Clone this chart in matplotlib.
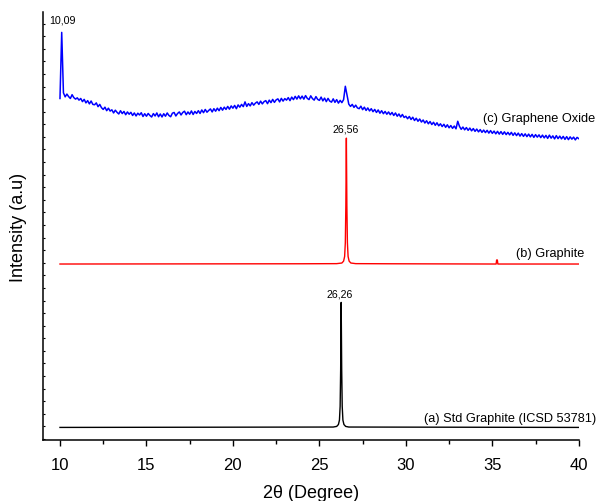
import numpy as np
import matplotlib
matplotlib.use("Agg")
import matplotlib.pyplot as plt

plt.rcParams["font.family"] = ["Liberation Sans", "DejaVu Sans"]

# (a) Std Graphite (ICSD 53781) - stacked offset, arbitrary units
std_x = [10.0, 25.8, 26.0, 26.1, 26.16, 26.2, 26.23, 26.26, 26.29, 26.32, 26.36, 26.42, 26.52, 26.7, 40.0]
std_y = [0.92, 0.95, 1.0, 1.15, 1.5, 2.6, 5.5, 10.85, 5.5, 2.6, 1.5, 1.15, 1.0, 0.95, 0.92]

# (b) Graphite
gr_x = [10.0, 24.0, 26.0, 26.3, 26.4, 26.46, 26.5, 26.53, 26.56, 26.59, 26.62, 26.66, 26.72,
        26.82, 27.1, 29.0, 35.22, 35.25, 35.29, 35.32, 40.0]
gr_y = [13.9, 13.92, 13.93, 13.98, 14.13, 14.5, 15.6, 18.5, 23.9, 18.5, 15.6, 14.5, 14.13,
        13.98, 13.93, 13.92, 13.9, 14.22, 14.22, 13.9, 13.9]

# (c) Graphene Oxide, 10.0 .. 40.0 step 0.1
go_x = np.round(np.arange(10.0, 40.05, 0.1), 1)
go_y = [
    27.05, 32.3, 27.5, 27.18, 27.4, 27.2, 27.05, 27.35, 27.12, 27.0,
    27.1, 26.92, 27.05, 26.8, 26.98, 26.7, 26.88, 26.62, 26.85, 26.58,
    26.55, 26.7, 26.4, 26.58, 26.32, 26.18, 26.36, 26.08, 26.28, 26.05,
    26.15, 25.9, 26.12, 25.95, 25.82, 26.08, 25.85, 26.02, 25.76, 25.98,
    25.8, 25.95, 25.7, 25.9, 25.66, 25.88, 25.74, 25.92, 25.62, 25.84,
    25.64, 25.86, 25.7, 25.58, 25.85, 25.66, 25.9, 25.6, 25.82, 25.58,
    25.84, 25.64, 25.9, 25.7, 25.6, 25.88, 25.94, 25.66, 25.86, 25.98,
    25.74, 25.94, 26.04, 25.76, 25.98, 25.8, 26.06, 25.78, 26.02, 25.86,
    26.08, 25.86, 26.14, 25.92, 26.18, 25.96, 26.1, 26.22, 25.98, 26.24,
    26.04, 26.28, 26.08, 26.34, 26.12, 26.36, 26.18, 26.42, 26.2, 26.46,
    26.28, 26.5, 26.24, 26.54, 26.36, 26.58, 26.4, 26.78, 26.42, 26.64,
    26.46, 26.72, 26.52, 26.68, 26.78, 26.58, 26.84, 26.62, 26.8, 26.88,
    26.64, 26.92, 26.72, 26.98, 26.74, 26.94, 27.02, 26.78, 27.06, 26.84,
    27.04, 26.92, 27.12, 26.88, 27.16, 26.96, 27.22, 27.0, 27.26, 27.02,
    27.24, 27.0, 27.28, 27.06, 26.96, 27.26, 27.04, 26.92, 27.2, 26.98,
    26.9, 27.16, 26.86, 27.08, 26.8, 27.06, 26.84, 26.76, 27.02, 26.74,
    26.96, 26.68, 26.9, 26.72, 26.96, 28.02, 27.3, 26.6, 26.42, 26.58,
    26.34, 26.52, 26.3, 26.24, 26.44, 26.16, 26.36, 26.1, 26.3, 26.06,
    26.24, 26.0, 26.18, 25.94, 26.14, 25.88, 26.08, 25.84, 26.02, 25.8,
    25.98, 25.76, 25.94, 25.7, 25.9, 25.64, 25.82, 25.58, 25.78, 25.54,
    25.64, 25.44, 25.62, 25.38, 25.56, 25.3, 25.48, 25.24, 25.42, 25.18,
    25.34, 25.1, 25.28, 25.04, 25.22, 24.98, 25.16, 24.92, 25.12, 24.88,
    25.04, 24.82, 25.0, 24.76, 24.96, 24.72, 24.9, 24.68, 24.86, 24.64,
    25.24, 24.84, 24.6, 24.78, 24.56, 24.74, 24.52, 24.7, 24.48, 24.66,
    24.44, 24.62, 24.4, 24.58, 24.36, 24.54, 24.34, 24.52, 24.3, 24.5,
    24.28, 24.46, 24.24, 24.44, 24.22, 24.42, 24.2, 24.4, 24.18, 24.36,
    24.16, 24.36, 24.12, 24.32, 24.1, 24.3, 24.06, 24.26, 24.04, 24.24,
    24.02, 24.22, 24.0, 24.2, 23.96, 24.18, 23.98, 24.16, 23.94, 24.14,
    23.92, 24.12, 23.88, 24.14, 23.9, 24.08, 23.84, 24.1, 23.86, 24.06,
    23.84, 24.04, 23.8, 24.02, 23.78, 24.0, 23.82, 23.98, 23.76, 23.96,
    23.86,
]

peak_labels = [(10.12, 32.95, "10,09"), (26.5, 24.3, "26,56"), (26.2, 11.15, "26,26")]
curve_labels = [(40.95, 25.0, "(c) Graphene Oxide"), (40.35, 14.3, "(b) Graphite"),
                (41.0, 1.2, "(a) Std Graphite (ICSD 53781)")]

fig = plt.figure(figsize=(5.97, 5.02), dpi=100)
ax = fig.add_axes([0.0715, 0.1215, 0.898, 0.8526])

ax.plot(std_x, std_y, color="black", lw=1.0)
ax.plot(gr_x, gr_y, color="red", lw=1.0)
ax.plot(go_x, go_y, color="blue", lw=1.1)

for x, y, s in peak_labels:
    ax.text(x, y, s, ha="center", va="bottom", fontsize=7.7)
for x, y, s in curve_labels:
    ax.text(x, y, s, ha="right", va="bottom", fontsize=9.2)

ax.set_xlim(9, 40)
ax.set_ylim(-0.08, 33.92)
ax.set_xticks([10, 15, 20, 25, 30, 35, 40])
ax.set_xticks([12.5, 17.5, 22.5, 27.5, 32.5, 37.5], minor=True)
ax.set_yticks(np.arange(0, 34, 1))
ax.set_yticklabels([])
ax.tick_params(axis="x", which="major", direction="out", length=4, width=1, labelsize=12, pad=8)
ax.tick_params(axis="x", which="minor", direction="out", length=3, width=1)
ax.tick_params(axis="y", which="major", direction="in", length=1.5, width=0.8)

ax.spines["top"].set_visible(False)
ax.spines["right"].set_visible(False)
ax.spines["left"].set_linewidth(1.1)
ax.spines["bottom"].set_linewidth(1.1)

ax.set_xlabel("2θ (Degree)", fontsize=13, labelpad=9)
ax.set_ylabel("Intensity (a.u)", fontsize=13, labelpad=8)

fig.savefig("out.png", dpi=100)
